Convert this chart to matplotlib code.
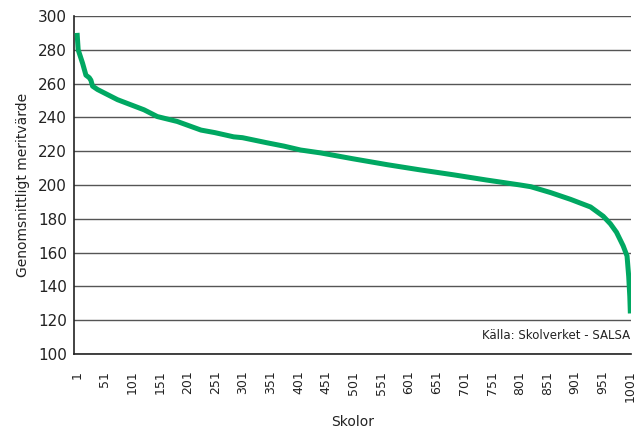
import matplotlib
matplotlib.use("Agg")
from matplotlib import pyplot as plt

# Ranks (school order) and the average merit value
ranks = [1, 3, 7, 11, 17, 23, 26, 29, 38, 56, 74, 98, 122, 146, 182, 225,
         250, 284, 300, 344, 375, 405, 441, 500, 562, 620, 682, 740, 802,
         821, 857, 893, 929, 952, 965, 976, 988, 995, 998, 1000, 1001]
merit = [290, 280, 276, 272, 265, 263.5, 262, 258.5, 256.5, 253.5, 250.5,
         247.5, 244.5, 240.5, 237.6, 232.5, 231, 228.5, 228, 225, 223,
         220.7, 219, 215.5, 212, 209, 206, 203, 200, 199, 195.5, 191.5,
         187, 181.5, 177, 172, 164, 158, 146, 134, 124]

xticks = list(range(1, 1002, 50))
yticks = list(range(100, 301, 20))

fig = plt.figure(figsize=(6.36, 4.29), dpi=100)
ax = fig.add_axes([0.1164, 0.1748, 0.8756, 0.7879])

ax.plot(ranks, merit, color="#00a862", lw=3.6, solid_capstyle="butt",
        solid_joinstyle="round", zorder=3)

ax.set_xlim(-4.5, 1002)
ax.set_ylim(100, 300)
ax.set_yticks(yticks)
ax.set_xticks(xticks)
ax.set_xticklabels([str(t) for t in xticks], rotation=90, fontsize=9,
                   color="#222222")
ax.tick_params(axis="y", labelsize=11, length=0, pad=5, labelcolor="#222222")
ax.tick_params(axis="x", length=0, pad=12)

ax.grid(axis="y", color="#555555", lw=1, zorder=1)
ax.set_axisbelow(True)
for side in ("top", "right"):
    ax.spines[side].set_visible(False)
for side in ("left", "bottom"):
    ax.spines[side].set_color("#222222")
    ax.spines[side].set_linewidth(1.2)

ax.set_ylabel("Genomsnittligt meritvärde", fontsize=10, color="#222222",
              labelpad=6)
ax.set_xlabel("Skolor", fontsize=10, color="#222222", labelpad=9)

ax.text(0.998, 0.055, "Källa: Skolverket - SALSA", transform=ax.transAxes,
        ha="right", va="center", fontsize=8.5, color="#222222")

fig.savefig("out.png", dpi=100)
